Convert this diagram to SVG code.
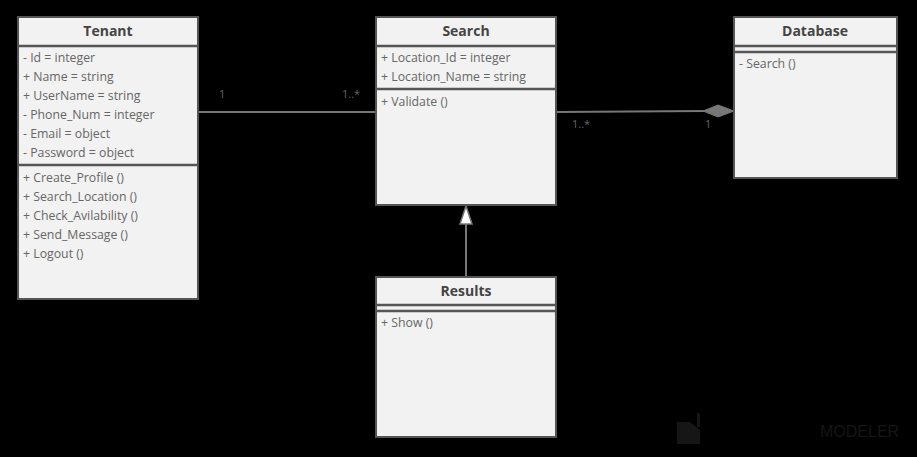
<svg xmlns="http://www.w3.org/2000/svg" width="917" height="457" viewBox="0 0 917 457">
<style>
.box{fill:#f2f2f2;stroke:#555;stroke-width:2}
.div{stroke:#555;stroke-width:2.5}
.title{font-family:"Open Sans","Noto Sans",sans-serif;font-size:14px;font-weight:bold;fill:#444;text-anchor:middle}
.item{font-family:"Open Sans","Noto Sans",sans-serif;font-size:12.3px;fill:#666}
.lbl{font-family:"Open Sans","Noto Sans",sans-serif;font-size:11px;fill:#666}
.conn{stroke:#777;stroke-width:2;fill:none}
</style>
<rect width="917" height="457" fill="#000"/>
<g id="watermark">
<path d="M677 422 L690 422 L700 430 L700 444 L677 444 Z" fill="#161616"/>
<rect x="697" y="413" width="3" height="14" fill="#161616"/>
<text x="820" y="437" font-family="Liberation Sans,sans-serif" font-size="16" fill="#161616">MODELER</text>
</g>
<g id="connectors">
<line class="conn" x1="198" y1="112" x2="376" y2="112"/>
<text class="lbl" x="219" y="98">1</text>
<text class="lbl" x="342" y="98">1..*</text>
<line class="conn" x1="556" y1="112" x2="704" y2="111"/>
<path d="M703 111 L718 105 L734 111 L718 117 Z" fill="#777" stroke="#777" stroke-width="1"/>
<text class="lbl" x="572" y="128">1..*</text>
<text class="lbl" x="705" y="128">1</text>
<line class="conn" x1="466" y1="277" x2="466" y2="224"/>
<path d="M466 206 L472 224 L460 224 Z" fill="#fff" stroke="#777" stroke-width="1.5"/>
</g>
<g id="tenant">
<rect class="box" x="18" y="17" width="180" height="282"/>
<line class="div" x1="18" y1="46" x2="198" y2="46"/>
<line class="div" x1="18" y1="165" x2="198" y2="165"/>
<text class="title" x="108" y="36">Tenant</text>
<text class="item" x="23" y="62">- Id = integer</text>
<text class="item" x="23" y="81">+ Name = string</text>
<text class="item" x="23" y="100">+ UserName = string</text>
<text class="item" x="23" y="119">- Phone_Num = integer</text>
<text class="item" x="23" y="138">- Email = object</text>
<text class="item" x="23" y="157">- Password = object</text>
<text class="item" x="23" y="182">+ Create_Profile ()</text>
<text class="item" x="23" y="201">+ Search_Location ()</text>
<text class="item" x="23" y="220">+ Check_Avilability ()</text>
<text class="item" x="23" y="239">+ Send_Message ()</text>
<text class="item" x="23" y="258">+ Logout ()</text>
</g>
<g id="search">
<rect class="box" x="376" y="17" width="180" height="188"/>
<line class="div" x1="376" y1="46" x2="556" y2="46"/>
<line class="div" x1="376" y1="89" x2="556" y2="89"/>
<text class="title" x="466" y="36">Search</text>
<text class="item" x="381" y="62">+ Location_Id = integer</text>
<text class="item" x="381" y="81">+ Location_Name = string</text>
<text class="item" x="381" y="106">+ Validate ()</text>
</g>
<g id="database">
<rect class="box" x="734" y="17" width="163" height="161"/>
<line class="div" x1="734" y1="46" x2="897" y2="46"/>
<line class="div" x1="734" y1="52" x2="897" y2="52"/>
<text class="title" x="815" y="36">Database</text>
<text class="item" x="739" y="68">- Search ()</text>
</g>
<g id="results">
<rect class="box" x="376" y="277" width="180" height="160"/>
<line class="div" x1="376" y1="305" x2="556" y2="305"/>
<line class="div" x1="376" y1="311" x2="556" y2="311"/>
<text class="title" x="466" y="296">Results</text>
<text class="item" x="381" y="327">+ Show ()</text>
</g>
</svg>
